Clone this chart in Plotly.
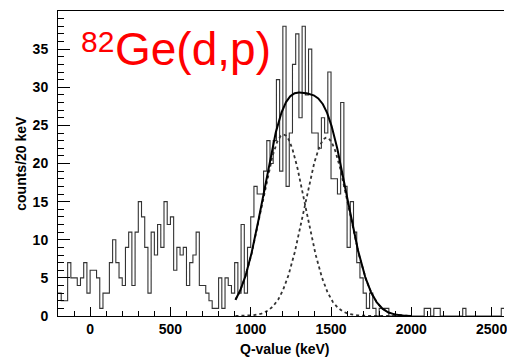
import numpy as np
import plotly.graph_objects as go

# ---------------- data ----------------
bin_start = -200          # keV, low edge of first bin
bin_width = 20            # keV
counts = [
    3, 2, 2, 7, 5, 5, 4, 5, 7, 3,          # -200 .. -20
    6, 6, 5, 1, 3, 3, 7, 10, 7, 5,         # 0 .. 180
    4, 9, 11, 4, 11, 15, 13, 9, 3, 11,     # 200 .. 380
    8, 12, 9, 15, 12, 13, 6, 9, 8, 9,      # 400 .. 580
    4, 7, 8, 11, 4, 4, 3, 2, 1, 1,         # 600 .. 780
    5, 1, 5, 4, 3, 7, 3, 12, 3, 9,         # 800 .. 980
    13, 17, 16, 16, 19, 23, 20, 23, 31, 19,  # 1000 .. 1180
    38, 17, 24, 33, 37, 26, 38, 29, 35, 24,  # 1200 .. 1380
    24, 22, 26, 24, 32, 18, 18, 16, 28, 17,  # 1400 .. 1580
    9, 15, 11, 7, 5, 3, 1, 3, 1, 0,          # 1600 .. 1780
    1, 1, 1, 0, 0, 0, 0, 0, 0, 0,            # 1800 .. 1980
    0, 0, 0, 0, 1, 1, 0, 1, 1, 0,            # 2000 .. 2180
    0, 0, 0, 0, 0, 0, 1, 0, 0, 0,            # 2200 .. 2380
    0, 0, 0, 0, 0, 0, 0, 0, 1,               # 2400 .. 2560
]

# two-Gaussian fit (centroid keV, amplitude counts, sigma keV)
peak_centroids = [1204, 1472]
peak_amplitudes = [23.8, 23.4]
peak_sigmas = [136, 138]
fit_range = [905, 2000]

x_tick_vals = [0, 500, 1000, 1500, 2000, 2500]
y_tick_vals = [0, 5, 10, 15, 20, 25, 30, 35]

x_title = "Q-value (keV)"
y_title = "counts/20 keV"
label_mass = "82"
label_reaction = "Ge(d,p)"

# ---------------- figure ----------------
edges = bin_start + bin_width * np.arange(len(counts) + 1)
step_y = list(counts) + [counts[-1]]

xf = np.linspace(fit_range[0], fit_range[1], 500)
comps = [a * np.exp(-0.5 * ((xf - m) / s) ** 2)
         for m, a, s in zip(peak_centroids, peak_amplitudes, peak_sigmas)]
total = comps[0] + comps[1]

fig = go.Figure()
fig.add_trace(go.Scatter(x=edges, y=step_y, mode="lines", line_shape="hv",
                         line=dict(color="#333333", width=1.1), showlegend=False))
for c in comps:
    fig.add_trace(go.Scatter(x=xf, y=c, mode="lines",
                             line=dict(color="#333333", width=1.8, dash="3px,3px"),
                             showlegend=False))
fig.add_trace(go.Scatter(x=xf, y=total, mode="lines",
                         line=dict(color="black", width=2), showlegend=False))

W, H = 507, 357
ml, mr, mt, mb = 58, 0, 11, 41
tick_font = dict(family="Liberation Sans", size=14, color="black", weight="bold")

fig.update_layout(
    width=W, height=H,
    margin=dict(l=ml, r=mr, t=mt, b=mb, pad=0),
    paper_bgcolor="white", plot_bgcolor="white",
    xaxis=dict(range=[-200, 2577], showgrid=False, zeroline=False,
               showline=True, linecolor="black", linewidth=1, mirror=True,
               tickmode="array", tickvals=x_tick_vals,
               ticks="inside", ticklen=9, tickwidth=1, tickcolor="black",
               minor=dict(dtick=100, tick0=0, ticks="inside", ticklen=5,
                          tickcolor="black", tickwidth=1),
               tickfont=tick_font, ticklabelstandoff=0,
               ticklabeloverflow="allow"),
    yaxis=dict(range=[0, 40], showgrid=False, zeroline=False,
               showline=True, linecolor="black", linewidth=1, mirror=False,
               tickmode="array", tickvals=y_tick_vals,
               ticks="inside", ticklen=12, tickwidth=1, tickcolor="black",
               minor=dict(dtick=1, tick0=0, ticks="inside", ticklen=6,
                          tickcolor="black", tickwidth=1),
               tickfont=tick_font, ticklabelstandoff=6),
)

pw = W - ml - mr
ph = H - mt - mb
def px2paper_x(px):
    return (px - ml) / pw
def px2paper_y(py):
    return (H - mb - py) / ph

annotations = [
    dict(text=x_title, x=px2paper_x(286), y=px2paper_y(359), xref="paper", yref="paper",
         xanchor="center", yanchor="bottom", showarrow=False,
         font=dict(family="Liberation Sans", size=14, color="black", weight="bold")),
    dict(text=y_title, x=px2paper_x(20), y=0.5, xref="paper", yref="paper",
         xanchor="center", yanchor="middle", textangle=-90, showarrow=False,
         font=dict(family="Liberation Sans", size=14, color="black", weight="bold")),
    dict(text=label_mass, x=px2paper_x(79.5), y=px2paper_y(59.5), xref="paper", yref="paper",
         xanchor="left", yanchor="bottom", showarrow=False,
         font=dict(family="Liberation Sans", size=30, color="red")),
    dict(text=label_reaction, x=px2paper_x(113.5), y=px2paper_y(76.5), xref="paper", yref="paper",
         xanchor="left", yanchor="bottom", showarrow=False,
         font=dict(family="Liberation Sans", size=46, color="red")),
]
fig.update_layout(annotations=annotations)

fig.write_html("out.html")
